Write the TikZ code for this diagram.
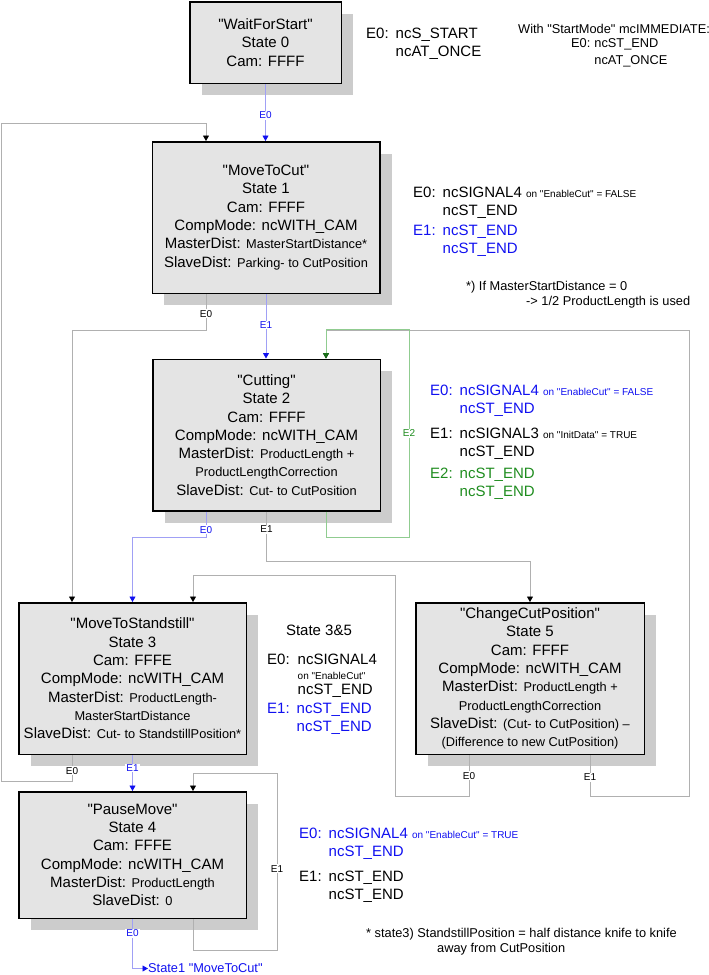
\documentclass[tikz,border=0pt]{standalone}
\usepackage{fontspec}
\setmainfont{Liberation Sans}[Ligatures=TeXOff]
\usepackage{tikz}
\usetikzlibrary{arrows.meta,shadows}

\definecolor{boxfill}{HTML}{E4E4E4}
\definecolor{shadowgray}{HTML}{CCCCCC}
\definecolor{linegray}{HTML}{B0B0B0}
\definecolor{lineblue}{HTML}{A0A0F5}
\definecolor{linegreen}{HTML}{90CC90}
\definecolor{ncblue}{HTML}{1010F0}
\definecolor{ncgreen}{HTML}{1E8C1E}

\newcommand{\smtxt}[1]{{\fontsize{12.8}{18.3}\selectfont #1}}
\newcommand{\tinytxt}[1]{{\fontsize{10}{12}\selectfont #1}}
\newcommand{\evt}[3]{\begin{tabular}{@{}l@{\hspace{7pt}}l@{}}#1 & #2\\ & #3\end{tabular}}

\tikzset{
  statebox/.style={draw=black, line width=1.5pt, fill=boxfill, align=center,
    minimum width=227.5pt, minimum height=151.5pt, inner sep=2pt,
    font=\fontsize{15}{18.3}\selectfont,
    drop shadow={shadow xshift=12pt, shadow yshift=-12pt, fill=shadowgray, opacity=1}},
  note/.style={font=\fontsize{15}{18}\selectfont, inner sep=0pt, anchor=north west},
  smallnote/.style={font=\fontsize{12.8}{15}\selectfont, inner sep=0pt, align=left},
  elabel/.style={font=\fontsize{10}{10}\selectfont, fill=white, inner sep=1pt},
  grayedge/.style={draw=linegray, line width=0.8pt, -{Triangle[length=5.5pt,width=6pt,color=black]}},
  blueedge/.style={draw=lineblue, line width=0.8pt, -{Triangle[length=5.5pt,width=6pt,color=ncblue]}},
  greenedge/.style={draw=linegreen, line width=0.8pt, -{Triangle[length=5.5pt,width=6pt,color=ncgreen!80!black]}},
}

\begin{document}
\begin{tikzpicture}[x=1pt,y=-1pt]
  \useasboundingbox (0,0) rectangle (709,975);

  % states
  \node[statebox, minimum width=151.5pt, minimum height=81.5pt] (s0) at (265.5,42.5)
    {"WaitForStart"\\State 0\\Cam: FFFF};
  \node[statebox] (s1) at (266,217.5)
    {"MoveToCut"\\State 1\\Cam: FFFF\\CompMode: ncWITH\_CAM\\
     MasterDist: \smtxt{MasterStartDistance*}\\SlaveDist: \smtxt{Parking- to CutPosition}};
  \node[statebox] (s2) at (266.5,435)
    {"Cutting"\\State 2\\Cam: FFFF\\CompMode: ncWITH\_CAM\\
     MasterDist: \smtxt{ProductLength +}\\\smtxt{ProductLengthCorrection}\\
     SlaveDist: \smtxt{Cut- to CutPosition}};
  \node[statebox] (s3) at (132.5,678.5)
    {"MoveToStandstill"\\State 3\\Cam: FFFE\\CompMode: ncWITH\_CAM\\
     MasterDist: \smtxt{ProductLength-}\\\smtxt{MasterStartDistance}\\
     SlaveDist: \smtxt{Cut- to StandstillPosition*}};
  \node[statebox, minimum width=228.5pt] (s5) at (530,678.5)
    {"ChangeCutPosition"\\State 5\\Cam: FFFF\\CompMode: ncWITH\_CAM\\
     MasterDist: \smtxt{ProductLength +}\\\smtxt{ProductLengthCorrection}\\
     SlaveDist: \smtxt{(Cut- to CutPosition) –}\\\smtxt{(Difference to new CutPosition)}};
  \node[statebox, minimum height=126.5pt] (s4) at (132.5,855)
    {"PauseMove"\\State 4\\Cam: FFFE\\CompMode: ncWITH\_CAM\\
     MasterDist: \smtxt{ProductLength}\\SlaveDist: \smtxt{0}};
  \node[font=\fontsize{12.8}{15}\selectfont, text=ncblue, inner sep=0pt, anchor=west] (back) at (148,968.5)
    {State1 "MoveToCut"};

  % transitions
  \draw[grayedge] ([xshift=60pt]s5.south) -- ++(0,41) node[elabel,pos=.54] {E1}
    -| (689,330) -| ([xshift=59.5pt]s2.north);
  \draw[greenedge] ([xshift=59.5pt]s2.south) -- ++(0,26) -- ++(83,0) -- ++(0,-208)
    node[elabel,pos=.5,text=ncgreen] {E2} -| ([xshift=59.5pt]s2.north);
  \draw[blueedge] (s0.south) -- (s0.south |- s1.north) node[elabel,pos=.55,text=ncblue] {E0};
  \draw[grayedge] ([xshift=-60pt]s1.south) -- ++(0,36) node[elabel,pos=.55] {E0}
    -| ([xshift=-60.5pt]s3.north);
  \draw[blueedge] (s1.south) -- (s1.south |- s2.north) node[elabel,pos=.48,text=ncblue] {E1};
  \draw[blueedge] ([xshift=-60.5pt]s2.south) -- ++(0,26) node[elabel,pos=.7,text=ncblue] {E0}
    -| (s3.north);
  \draw[grayedge] (s2.south) -- ++(0,50) node[elabel,pos=.36] {E1} -| (s5.north);
  \draw[grayedge] ([xshift=-61pt]s5.south) -- ++(0,41) node[elabel,pos=.51] {E0}
    -| (395,575) -| ([xshift=60.5pt]s3.north);
  \draw[grayedge] ([xshift=-60.5pt]s3.south) -- ++(0,26) node[elabel,pos=.6] {E0}
    -| (1,123) -| ([xshift=-60pt]s1.north);
  \draw[blueedge] (s3.south) -- (s3.south |- s4.north) node[elabel,pos=.36,text=ncblue] {E1};
  \draw[grayedge] ([xshift=60.5pt]s4.south) -- ++(0,31) -- ++(84,0) -- ++(0,-177)
    node[elabel,pos=.46] {E1} -| ([xshift=60.5pt]s4.north);
  \draw[blueedge] (s4.south) |- (back.west) node[elabel,pos=.145,text=ncblue] {E0};

  % events
  \node[note] (n0) at (366,26) {\evt{E0:}{ncS\_START}{ncAT\_ONCE}};
  \node[smallnote, anchor=west] (mode) at (518,29) {With "StartMode" mcIMMEDIATE:};
  \node[smallnote, anchor=north west, font=\fontsize{12.8}{16.7}\selectfont] (mode0) at (571,36)
    {\begin{tabular}{@{}l@{\hspace{4pt}}l@{}}E0: & ncST\_END\\ & ncAT\_ONCE\end{tabular}};

  \node[note] (n1a) at (413,185) {\evt{E0:}{ncSIGNAL4 \tinytxt{on "EnableCut" = FALSE}}{ncST\_END}};
  \node[note, text=ncblue] (n1b) at (413,223) {\evt{E1:}{ncST\_END}{ncST\_END}};
  \node[smallnote, anchor=north west] (foot1) at (466,281)
    {*) If MasterStartDistance = 0\\\hspace*{60pt}-> 1/2 ProductLength is used};

  \node[note, text=ncblue] (n2a) at (430,383) {\evt{E0:}{ncSIGNAL4 \tinytxt{on "EnableCut" = FALSE}}{ncST\_END}};
  \node[note] (n2b) at (430,426) {\evt{E1:}{ncSIGNAL3 \tinytxt{on "InitData" = TRUE}}{ncST\_END}};
  \node[note, text=ncgreen] (n2c) at (430,466) {\evt{E2:}{ncST\_END}{ncST\_END}};

  \node[note, anchor=center] (n35) at (319,630) {State 3\&5};
  \node[note] (n35a) at (267,652)
    {\begin{tabular}{@{}l@{\hspace{8pt}}l@{}}E0: & ncSIGNAL4\\[-3pt] & \tinytxt{on "EnableCut"}\\[-3pt] & ncST\_END\end{tabular}};
  \node[note, text=ncblue] (n35b) at (267,701) {\evt{E1:}{ncST\_END}{ncST\_END}};

  \node[note, text=ncblue] (n4a) at (299,826) {\evt{E0:}{ncSIGNAL4 \tinytxt{on "EnableCut" = TRUE}}{ncST\_END}};
  \node[note] (n4b) at (299,869) {\evt{E1:}{ncST\_END}{ncST\_END}};
  \node[smallnote, anchor=north west] (foot2) at (366,928.5)
    {* state3) StandstillPosition = half distance knife to knife\\\hspace*{71pt}away from CutPosition};
\end{tikzpicture}
\end{document}
